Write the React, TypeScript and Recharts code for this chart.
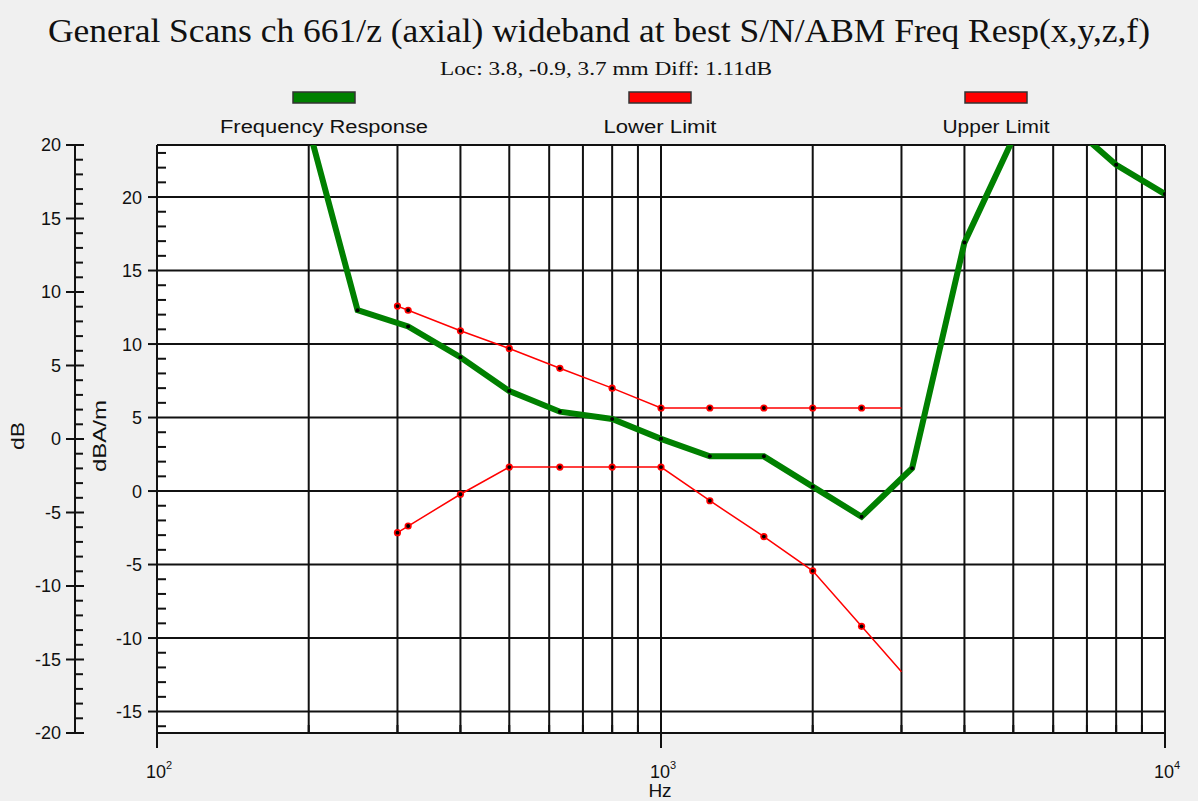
import { LineChart, Line, XAxis, YAxis, CartesianGrid } from "recharts";

// measured frequency response (dBA/m) at third-octave points
const responseHz = [200, 250, 315, 400, 500, 630, 800, 1000, 1250, 1600, 2000, 2500, 3150, 4000, 5000, 6300, 8000, 10000];
const responseDb = [24.7, 12.3, 11.2, 9.1, 6.8, 5.4, 4.9, 3.55, 2.36, 2.36, 0.3, -1.75, 1.55, 16.9, 24.0, 25.3, 22.2, 20.2];

// limit masks
const limitHz = [300, 315, 400, 500, 630, 800, 1000, 1250, 1600, 2000, 2500, 3000];
const lowerLimitDb = [-2.83, -2.38, -0.22, 1.63, 1.63, 1.63, 1.63, -0.66, -3.1, -5.43, -9.2, -12.3];
const upperLimitDb = [12.58, 12.3, 10.9, 9.7, 8.35, 7.0, 5.65, 5.65, 5.65, 5.65, 5.65, 5.65];

const xTicks = [100, 200, 300, 400, 500, 600, 700, 800, 900, 1000, 2000, 3000, 4000, 5000, 6000, 7000, 8000, 9000, 10000];
const xMajor = [100, 1000, 10000];
const gridY = [-15, -10, -5, 0, 5, 10, 15, 20];

const legendLabels = ["Frequency Response", "Lower Limit", "Upper Limit"];
const legendColors = ["#008000", "#ff0000", "#ff0000"];

const RIGHT_DOMAIN: [number, number] = [-16.46, 23.54];
const range = (a: number, b: number) => Array.from({ length: b - a + 1 }, (_, i) => a + i);
const rightTicks = range(-16, 23);
const dbTicks = range(-20, 20);

const response = responseHz.map((f, i) => ({ f, v: responseDb[i] }));
const lowerLimit = limitHz.map((f, i) => ({ f, v: lowerLimitDb[i] }));
const upperLimit = limitHz.map((f, i) => ({ f, v: upperLimitDb[i] }));

const SANS = "'Liberation Sans', Arial, sans-serif";
const SERIF = "'Liberation Serif', 'Times New Roman', serif";
const INK = "#111";

function DbTick(props: any) {
  const { x, y, payload } = props;
  const v = payload.value;
  const major = v % 5 === 0;
  return (
    <g>
      {major ? (
        <line x1={x - 9} x2={x + 9} y1={y} y2={y} stroke={INK} strokeWidth={2} />
      ) : (
        <line x1={x} x2={x + 8} y1={y} y2={y} stroke={INK} strokeWidth={2} />
      )}
      {major && (
        <text x={x - 14} y={y} dy="0.36em" textAnchor="end" fontFamily={SANS} fontSize={18} fill={INK}>
          {v}
        </text>
      )}
    </g>
  );
}

function RightTick(props: any) {
  const { x, y, payload } = props;
  const v = payload.value;
  const major = v % 5 === 0;
  return (
    <g>
      {major ? (
        <line x1={x - 9} x2={x} y1={y} y2={y} stroke={INK} strokeWidth={2} />
      ) : (
        <line x1={x} x2={x + 9} y1={y} y2={y} stroke={INK} strokeWidth={2} />
      )}
      {major && (
        <text x={x - 15} y={y} dy="0.36em" textAnchor="end" fontFamily={SANS} fontSize={18} fill={INK}>
          {v}
        </text>
      )}
    </g>
  );
}

function HzTick(props: any) {
  const { x, y, payload } = props;
  const v = payload.value;
  if (!xMajor.includes(v)) {
    return <line x1={x} x2={x} y1={y} y2={y - 8} stroke={INK} strokeWidth={2} />;
  }
  const exp = Math.round(Math.log10(v));
  return (
    <g>
      <line x1={x} x2={x} y1={y} y2={y + 15} stroke={INK} strokeWidth={2} />
      <text x={x + 2} y={y + 45} textAnchor="middle" fontFamily={SANS} fontSize={18} fill={INK}>
        10
        <tspan dy={-9} fontSize={11}>
          {exp}
        </tspan>
      </text>
    </g>
  );
}

const greenDot = (p: any) => <circle key={`g${p.index}`} cx={p.cx} cy={p.cy} r={2} fill="#000" />;

const redDot = (p: any) =>
  p.payload.f === 3000 ? (
    <g key={`r${p.index}`} />
  ) : (
    <g key={`r${p.index}`}>
      <circle cx={p.cx} cy={p.cy} r={3.6} fill="#ff0000" />
      <circle cx={p.cx} cy={p.cy} r={1.9} fill="#000" />
    </g>
  );

export default function App() {
  return (
    <div style={{ position: "absolute", left: 0, top: 0, width: 1198, height: 801, background: "#f0f0f0" }}>
      <LineChart width={1198} height={801} margin={{ top: 145, right: 33, bottom: 0, left: 0 }}>
        <CartesianGrid
          yAxisId={0}
          fill="#fff"
          stroke={INK}
          strokeWidth={2}
          verticalValues={xTicks}
          horizontalValues={[...gridY, RIGHT_DOMAIN[1]]}
        />
        <XAxis
          dataKey="f"
          type="number"
          scale="log"
          domain={[100, 10000]}
          allowDataOverflow
          ticks={xTicks}
          interval={0}
          height={68}
          tickSize={0}
          tickMargin={0}
          tickLine={false}
          tick={<HzTick />}
          axisLine={{ stroke: INK, strokeWidth: 2 }}
        />
        <YAxis
          yAxisId={0}
          type="number"
          domain={RIGHT_DOMAIN}
          allowDataOverflow
          ticks={rightTicks}
          interval={0}
          width={82}
          tickSize={0}
          tickMargin={0}
          tickLine={false}
          tick={<RightTick />}
          axisLine={{ stroke: INK, strokeWidth: 2 }}
        />
        <YAxis
          yAxisId={1}
          type="number"
          domain={[-20, 20]}
          allowDataOverflow
          ticks={dbTicks}
          interval={0}
          width={75}
          tickSize={0}
          tickMargin={0}
          tickLine={false}
          tick={<DbTick />}
          axisLine={{ stroke: INK, strokeWidth: 2 }}
        />
        <Line
          yAxisId={0}
          data={response}
          dataKey="v"
          stroke="#008000"
          strokeWidth={6}
          dot={greenDot}
          isAnimationActive={false}
        />
        <Line
          yAxisId={0}
          data={lowerLimit}
          dataKey="v"
          stroke="#ff0000"
          strokeWidth={1.5}
          dot={redDot}
          isAnimationActive={false}
        />
        <Line
          yAxisId={0}
          data={upperLimit}
          dataKey="v"
          stroke="#ff0000"
          strokeWidth={1.5}
          dot={redDot}
          isAnimationActive={false}
        />
      </LineChart>
      <svg width={1198} height={801} style={{ position: "absolute", left: 0, top: 0, pointerEvents: "none" }}>
        <text x={599} y={42} textAnchor="middle" fontFamily={SERIF} fontSize={33} fill={INK} textLength={1102} lengthAdjust="spacingAndGlyphs">
          General Scans ch 661/z (axial) wideband at best S/N/ABM Freq Resp(x,y,z,f)
        </text>
        <text x={606} y={75} textAnchor="middle" fontFamily={SERIF} fontSize={18} fill={INK} textLength={332} lengthAdjust="spacingAndGlyphs">
          Loc: 3.8, -0.9, 3.7 mm Diff: 1.11dB
        </text>
        {legendLabels.map((label, i) => {
          const cx = [324, 660, 996][i];
          const w = [208, 113, 107][i];
          return (
            <g key={label}>
              <rect x={cx - 31} y={92} width={62} height={11} fill={legendColors[i]} stroke="#333" strokeWidth={1.5} />
              <text x={cx} y={133} textAnchor="middle" fontFamily={SANS} fontSize={18} fill={INK} textLength={w} lengthAdjust="spacingAndGlyphs">
                {label}
              </text>
            </g>
          );
        })}
        <text x={660} y={797} textAnchor="middle" fontFamily={SANS} fontSize={19} fill={INK}>
          Hz
        </text>
        <text transform="translate(24,436) rotate(-90)" textAnchor="middle" fontFamily={SANS} fontSize={19} fill={INK} textLength={28} lengthAdjust="spacingAndGlyphs">
          dB
        </text>
        <text transform="translate(106,436) rotate(-90)" textAnchor="middle" fontFamily={SANS} fontSize={19} fill={INK} textLength={72} lengthAdjust="spacingAndGlyphs">
          dBA/m
        </text>
      </svg>
    </div>
  );
}
